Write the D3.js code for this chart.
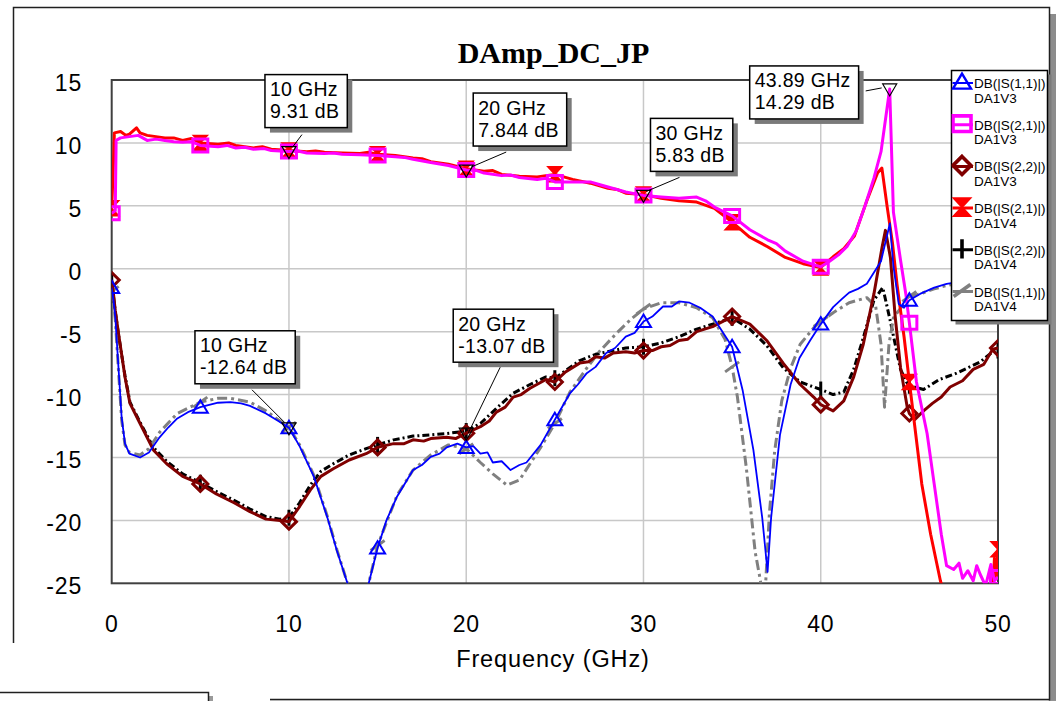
<!DOCTYPE html>
<html>
<head>
<meta charset="utf-8">
<script src="https://d3js.org/d3.v7.min.js"></script>
<style>
body{margin:0;background:#fff;}
svg{display:block;font-family:"Liberation Sans",Arial,sans-serif;}
</style>
</head>
<body>
<div id="chart"></div>
<script>
//DATA
var xTicks = [0,10,20,30,40,50];
var yTicks = [15,10,5,0,-5,-10,-15,-20,-25];

//DB(|S(1,1)|) DA1V3
var s11v3 = [[0,-1.5],[0.1,-2.5],[0.2,-3.8],[0.38,-7.8],[0.56,-11.8],[0.75,-13.9],[1,-14.7],[1.6,-15.0],[2.1,-14.6],[2.7,-13.4],[3.2,-12.6],[3.7,-11.9],[4.3,-11.4],[5,-11.0],[6,-10.65],[6.7,-10.6],[7.3,-10.7],[7.8,-10.9],[8.7,-11.5],[9.4,-12.1],[10,-12.64],[10.6,-14.1],[11.4,-16.5],[12.15,-19.7],[12.7,-22.4],[13.3,-25],[13.9,-28],[14.5,-25],[15,-22.2],[15.5,-20.0],[16.1,-18.1],[17,-16.0],[17.5,-15.6],[18,-14.95],[18.5,-14.7],[18.9,-14.2],[19.5,-13.9],[20,-14.2],[20.4,-14.1],[20.8,-14.7],[21.2,-14.6],[21.5,-15.4],[22,-15.3],[22.5,-16.0],[23,-15.6],[23.4,-15.4],[24.2,-14.0],[25,-12.0],[25.85,-9.9],[26.3,-9.2],[26.8,-8.3],[27.3,-7.8],[27.9,-6.7],[28.4,-6.3],[29,-5.4],[29.5,-5.1],[30,-4.2],[30.5,-3.8],[31.1,-3.0],[31.6,-3.0],[32,-2.6],[32.6,-2.7],[33.2,-3.1],[33.9,-3.8],[35,-6.2],[35.6,-9.7],[36.2,-14.4],[36.7,-19.8],[37,-24.1],[37.2,-19.8],[37.7,-13.2],[38.3,-9.2],[38.8,-7.1],[39.4,-5.7],[40,-4.4],[40.7,-3.05],[41.2,-2.4],[41.6,-1.9],[42.1,-1.6],[42.6,-1.2],[43.4,0.6],[43.9,3.6],[44.1,0.2],[44.4,-2.8],[44.7,-3.1],[45,-2.5],[45.6,-2.0],[46.4,-1.5],[47.1,-1.2],[48,-1.0],[49,-0.8],[50,-0.7]];

//DB(|S(2,1)|) DA1V3
var s21v3 = [[0,4.4],[0.2,4.6],[0.25,10.2],[0.5,10.4],[1,10.5],[1.5,10.6],[2,10.2],[2.5,10.3],[3,10.2],[3.5,10.1],[4,10.05],[4.5,10.1],[5,9.8],[6,9.7],[6.5,9.8],[7,9.6],[7.5,9.65],[8,9.5],[8.6,9.55],[9,9.4],[10,9.31],[10.5,9.35],[11,9.2],[12,9.15],[12.5,9.2],[13,9.1],[14,9.05],[15,9.0],[16,8.9],[16.5,8.85],[17,8.7],[18,8.45],[19,8.2],[20,7.844],[20.6,7.8],[21,7.6],[22,7.4],[22.5,7.45],[23,7.25],[24,7.1],[24.5,7.2],[25,6.9],[26,6.9],[27,6.9],[27.5,6.7],[28,6.5],[29,6.1],[30,5.83],[31,5.7],[32,5.6],[33,5.7],[33.5,5.4],[34,4.9],[35,4.2],[36,3.1],[37,2.3],[37.5,2.0],[38,1.4],[39,0.6],[40,0.15],[40.5,0.6],[41,1.1],[41.5,1.8],[42,3.0],[42.5,5.0],[43,7.2],[43.4,9.3],[43.89,14.29],[44.1,4.5],[44.5,0.7],[44.8,-2.0],[45,-4.3],[45.4,-9.0],[46,-13.1],[46.4,-17.1],[46.8,-21.1],[47.1,-23.6],[47.5,-23.9],[47.8,-23.4],[48,-24.6],[48.3,-24.0],[48.6,-24.8],[48.8,-23.6],[49,-24.3],[49.3,-25.2],[49.6,-23.5],[49.8,-24.8],[50,-24.5]];

//DB(|S(2,2)|) DA1V3
var s22v3 = [[0,-0.9],[0.1,-2.0],[0.2,-3.3],[0.38,-5.1],[0.75,-8.6],[1.03,-10.7],[1.6,-12.3],[2.35,-14.4],[3.1,-15.5],[4,-16.5],[5,-17.1],[5.9,-17.9],[6.9,-18.6],[7.8,-19.3],[8.7,-19.9],[9.5,-20.0],[10,-20.1],[10.6,-18.9],[11.2,-17.6],[11.8,-16.5],[12.5,-15.9],[13.4,-15.2],[14.35,-14.7],[15,-14.2],[15.9,-13.9],[16.5,-13.9],[17,-13.6],[17.6,-13.7],[18,-13.5],[18.9,-13.4],[19.4,-13.5],[20,-13.07],[20.8,-12.55],[21.3,-12.1],[21.7,-11.4],[22.2,-11.0],[22.65,-10.2],[23.1,-10.0],[23.6,-9.5],[24.5,-8.8],[25,-9.0],[25.6,-8.2],[26.4,-7.5],[26.9,-7.4],[27.3,-7.0],[27.8,-7.1],[28.3,-6.7],[29,-6.6],[29.5,-6.7],[30,-6.5],[30.5,-6.5],[31,-6.2],[31.5,-6.1],[32,-5.7],[32.5,-5.6],[33,-5.0],[33.9,-4.6],[35,-3.8],[36,-4.4],[36.95,-5.7],[37.9,-7.55],[38.84,-9.2],[39.6,-10.2],[40,-10.8],[40.7,-11.3],[41.3,-10.5],[41.86,-8.6],[42.4,-6.0],[43,-2.0],[43.46,1.7],[43.65,3.05],[43.93,0.9],[44.2,-3.8],[44.5,-7.85],[44.88,-11.0],[45,-11.5],[45.3,-12.0],[45.8,-11.3],[46.3,-10.7],[46.8,-10.2],[47.3,-9.4],[48,-8.9],[48.6,-8.0],[49.2,-7.6],[49.7,-6.4],[50,-6.3]];

//DB(|S(2,1)|) DA1V4
var s21v4 = [[0,4.8],[0.1,8.5],[0.15,10.8],[0.5,10.9],[0.8,10.6],[1,10.7],[1.4,11.2],[1.6,10.8],[2,10.6],[2.5,10.5],[3,10.4],[3.5,10.4],[4,10.2],[4.5,10.35],[5,10.0],[6,9.9],[6.6,10.0],[7,9.8],[8,9.6],[8.5,9.7],[9,9.5],[10,9.4],[11,9.3],[11.5,9.35],[12,9.25],[13,9.2],[14,9.15],[14.5,9.25],[15,9.1],[16,9.0],[17,8.8],[17.5,8.75],[18,8.5],[19,8.3],[20,7.95],[21,7.75],[21.5,7.8],[22,7.5],[23,7.35],[24,7.3],[25,7.5],[26,7.1],[27,6.8],[28,6.4],[28.5,6.3],[29,6.0],[30,5.9],[31,5.6],[32,5.4],[33,5.3],[34,4.8],[35,3.7],[36,2.5],[37,1.75],[38,0.9],[39,0.4],[40,0.1],[40.7,0.95],[41.3,1.6],[41.9,2.6],[42.6,5.4],[43.2,7.6],[43.45,8.0],[43.75,4.9],[44.05,2.0],[44.3,-1.2],[44.7,-5.4],[45,-9.0],[45.7,-17.1],[46.2,-21.1],[46.75,-24.8],[47,-26],[49.7,-26],[49.8,-23],[49.9,-24.5],[50,-22.3]];

//DB(|S(2,2)|) DA1V4
var s22v4 = [[0,-1.0],[0.2,-3.4],[0.38,-5.2],[0.75,-8.5],[1.03,-10.6],[1.6,-12.2],[2.35,-14.2],[3.1,-15.3],[4,-16.3],[5,-17.0],[5.9,-17.7],[6.9,-18.4],[7.8,-19.1],[8.7,-19.7],[9.5,-19.9],[10,-19.8],[10.6,-18.6],[11.2,-17.2],[11.8,-16.1],[12.5,-15.5],[13.4,-14.8],[14.35,-14.3],[15,-14.0],[15.9,-13.6],[17,-13.3],[18,-13.2],[18.9,-13.1],[20,-12.9],[20.8,-12.3],[21.7,-11.1],[22.65,-9.9],[23.6,-9.2],[24.5,-8.6],[25,-8.7],[26.4,-7.3],[27.3,-6.8],[28.3,-6.5],[29,-6.3],[30,-6.2],[31,-5.9],[32,-5.4],[33,-4.8],[33.9,-4.4],[35,-3.9],[36,-4.8],[36.95,-6.1],[37.9,-7.9],[38.84,-9.0],[39.6,-9.4],[40,-9.6],[40.7,-10.0],[41.3,-9.8],[41.86,-8.0],[42.4,-5.5],[43,-2.5],[43.5,-1.5],[43.9,-4.0],[44.2,-6.0],[44.5,-8.0],[44.84,-9.0],[45,-9.3],[45.8,-9.6],[46.7,-8.8],[47.66,-8.3],[49,-7.4],[49.7,-6.6],[50,-6.5]];

//DB(|S(1,1)|) DA1V4
var s11v4 = [[0,-1.8],[0.1,-2.7],[0.2,-4.0],[0.38,-8.0],[0.56,-12.0],[0.75,-14.0],[1,-14.6],[1.6,-14.8],[2.1,-14.3],[2.7,-13.0],[3.7,-11.5],[5,-10.6],[6,-10.3],[6.7,-10.3],[7.8,-10.6],[8.7,-11.3],[10,-12.6],[10.6,-14.0],[11.4,-16.4],[12.15,-19.6],[12.7,-22.3],[13.3,-25],[13.9,-28],[14.5,-25],[15,-22.0],[16.1,-18.0],[17,-16.0],[18,-14.8],[19,-14.0],[20,-14.3],[20.8,-15.4],[21.5,-16.3],[22.3,-17.2],[23,-16.8],[23.6,-15.5],[24.2,-14.2],[25,-12.3],[25.85,-9.8],[26.8,-7.9],[27.5,-6.6],[28.5,-5.1],[29.3,-4.0],[30,-3.2],[31,-2.7],[32,-2.7],[33,-3.1],[33.9,-3.9],[34.6,-5.6],[35,-7.8],[35.3,-10.2],[35.8,-15.8],[36.3,-22.5],[36.6,-24.8],[36.75,-27],[36.9,-24.8],[37.1,-19.5],[37.4,-14.5],[37.8,-10.5],[38.3,-7.9],[38.84,-6.0],[39.6,-4.7],[40,-4.2],[40.7,-3.5],[41.6,-2.7],[42.6,-2.3],[43.1,-3.0],[43.4,-6.0],[43.6,-11.0],[43.85,-6.0],[44.1,-3.9],[45,-2.2],[45.6,-2.0],[46.4,-1.6],[47.2,-1.3],[48,-1.1],[49,-0.9],[50,-0.8]];

var legendNames = [['DB(|S(1,1)|)','DA1V3'],['DB(|S(2,1)|)','DA1V3'],['DB(|S(2,2)|)','DA1V3'],['DB(|S(2,1)|)','DA1V4'],['DB(|S(2,2)|)','DA1V4'],['DB(|S(1,1)|)','DA1V4']];

//marker readouts (freq GHz, dB)
var readoutFreq = [10,20,30,43.89,10,20];
var readoutDb = [9.31,7.844,5.83,14.29,-12.64,-13.07];

//LAYOUT of the readout boxes, relative to the marked point
var readoutLayout = [
	{box:[-24,-77], lead:[13,-17,4,-5]},
	{box:[7,-77], lead:[40,-18,5,-3]},
	{box:[7,-77], lead:[36,-18,3,-4]},
	{box:[-140,-23], lead:[-24,2,-8,-1]},
	{box:[-94,-97], lead:[-37,-38,-4,-5]},
	{box:[-13,-124], lead:[34,-66,2,0]}
];

var traces = [
	{data:s11v3, color:'#0000ff', width:1.8, dash:null, symbol:'tri', z:5},
	{data:s21v3, color:'#ff00ff', width:3, dash:null, symbol:'square', z:4},
	{data:s22v3, color:'#800000', width:3, dash:null, symbol:'diamond', z:2},
	{data:s21v4, color:'#ff0000', width:3, dash:null, symbol:'hourglass', z:3},
	{data:s22v4, color:'#000000', width:3, dash:'7,3,2,3', symbol:'vbar', z:0},
	{data:s11v4, color:'#808080', width:3, dash:'10,4,3,4', symbol:'slash', z:1}
];

var W = 1056, H = 701;

var svg = d3.select('#chart')
.append('svg')
.attr('width', W)
.attr('height', H);

var x = d3.scaleLinear().domain([0,50]).range([111.7,998]);
var y = d3.scaleLinear().domain([-25,15]).range([583.3,80]);

//OUTER FRAME (window borders)
svg.append('rect').attr('x',1050).attr('y',14).attr('width',6).attr('height',H-14).attr('fill','#8c8c8c');
var frame = svg.append('g').attr('stroke','#202020').attr('stroke-width',1.5).attr('fill','none');
frame.append('path').attr('d','M13.5,643V7.5H1049.5V701');
frame.append('path').attr('d','M270,699.5H1049.5');
svg.append('rect').attr('x',270).attr('y',700.5).attr('width',786).attr('height',1).attr('fill','#9a9a9a');
//overlapping small window in the lower left
svg.append('rect').attr('x',209).attr('y',696).attr('width',4).attr('height',10).attr('fill','#9a9a9a');
svg.append('path').attr('d','M0,692.5H208.5V701').attr('stroke','#202020').attr('stroke-width',1.5).attr('fill','none');

//TITLE
svg.append('text')
.attr('x', 553.5)
.attr('y', 63)
.attr('text-anchor','middle')
.attr('font-family','"Liberation Serif","Times New Roman",serif')
.attr('font-weight','bold')
.attr('font-size',30)
.text('DAmp_DC_JP');

//GRID
svg.append('g')
.selectAll('line')
.data(xTicks.slice(1,-1))
.enter()
.append('line')
.attr('x1', function(d){ return x(d); })
.attr('x2', function(d){ return x(d); })
.attr('y1', y(15))
.attr('y2', y(-25))
.attr('stroke','#c8c8c8')
.attr('stroke-width',1.5);

svg.append('g')
.selectAll('line')
.data(yTicks.slice(1,-1))
.enter()
.append('line')
.attr('x1', x(0))
.attr('x2', x(50))
.attr('y1', function(d){ return y(d); })
.attr('y2', function(d){ return y(d); })
.attr('stroke','#c8c8c8')
.attr('stroke-width',1.5);

svg.append('rect')
.attr('x', x(0))
.attr('y', y(15))
.attr('width', x(50)-x(0))
.attr('height', y(-25)-y(15))
.attr('fill','none')
.attr('stroke','#404040')
.attr('stroke-width',2);

//TICK LABELS
svg.append('g')
.selectAll('text')
.data(yTicks)
.enter()
.append('text')
.attr('x', 82)
.attr('y', function(d){ return y(d) + 11; })
.attr('text-anchor','end')
.attr('font-size',23)
.attr('letter-spacing',0.8)
.text(function(d){ return d; });

svg.append('g')
.selectAll('text')
.data(xTicks)
.enter()
.append('text')
.attr('x', function(d){ return x(d); })
.attr('y', 632)
.attr('text-anchor','middle')
.attr('font-size',23)
.attr('letter-spacing',0.8)
.text(function(d){ return d; });

svg.append('text')
.attr('x', 553)
.attr('y', 667)
.attr('text-anchor','middle')
.attr('font-size',23.5)
.attr('letter-spacing',0.9)
.text('Frequency (GHz)');

//SYMBOLS
function symbolPath(type){
	switch(type){
		case 'tri': return 'M0,-7L7.5,5.5L-7.5,5.5Z';
		case 'square': return 'M-7.5,-6.5H7.5V6.5H-7.5Z';
		case 'diamond': return 'M0,-7.5L7.5,0L0,7.5L-7.5,0Z';
		case 'hourglass': return 'M-7,-7.5H7L0,0ZM-7,7.5H7L0,0Z';
		case 'vbar': return 'M0,-8V8';
		case 'slash': return 'M-7,5L7,-5';
	}
}
function styleSymbol(sel, t){
	var filled = t.symbol === 'hourglass';
	sel.attr('d', symbolPath(t.symbol))
	.attr('fill', filled ? t.color : 'none')
	.attr('stroke', t.color)
	.attr('stroke-width', t.symbol === 'tri' ? 2 : (t.symbol === 'hourglass' ? 1.5 : 3));
}

//CLIP
svg.append('clipPath')
.attr('id','plotClip')
.append('rect')
.attr('x', x(0))
.attr('y', y(15))
.attr('width', x(50)-x(0))
.attr('height', y(-25)-y(15));

var plot = svg.append('g').attr('clip-path','url(#plotClip)');

var line = d3.line()
.x(function(d){ return x(d[0]); })
.y(function(d){ return y(d[1]); });

var drawOrder = traces.slice().sort(function(a,b){ return a.z - b.z; });

drawOrder.forEach(function(t){
	var g = plot.append('g');
	g.append('path')
	.datum(t.data)
	.attr('d', line)
	.attr('fill','none')
	.attr('stroke', t.color)
	.attr('stroke-width', t.width)
	.attr('stroke-linejoin','round')
	.attr('stroke-dasharray', t.dash);

	g.selectAll('path.sym')
	.data(t.data.filter(function(d){ return d[0] % 5 === 0; }))
	.enter()
	.append('path')
	.attr('class','sym')
	.attr('transform', function(d){ return 'translate(' + x(d[0]) + ',' + y(d[1]) + ')'; })
	.call(styleSymbol, t);
});

//READOUT MARKERS AND LABELS
var readouts = svg.append('g');
readoutFreq.forEach(function(f, i){
	var db = readoutDb[i];
	var px = x(f), py = y(db);
	var lay = readoutLayout[i];

	readouts.append('path')
	.attr('d','M' + (px-7) + ',' + (py-5) + 'H' + (px+7) + 'L' + px + ',' + (py+7) + 'Z')
	.attr('fill','none')
	.attr('stroke','#000')
	.attr('stroke-width',1.2);

	readouts.append('line')
	.attr('x1', px + lay.lead[0])
	.attr('y1', py + lay.lead[1])
	.attr('x2', px + lay.lead[2])
	.attr('y2', py + lay.lead[3])
	.attr('stroke','#000')
	.attr('stroke-width',1);

	var bx = px + lay.box[0], by = py + lay.box[1];
	var box = readouts.append('g');
	var shadow = box.append('rect').attr('fill','#7a7a7a');
	var rect = box.append('rect').attr('fill','#fff').attr('stroke','#000').attr('stroke-width',1.5);
	var t1 = box.append('text').attr('x', bx + 5).attr('y', by + 21.5).attr('font-size',19.5).attr('letter-spacing',0.3).text(f + ' GHz');
	var t2 = box.append('text').attr('x', bx + 5).attr('y', by + 43.5).attr('font-size',19.5).attr('letter-spacing',0.3).text(db + ' dB');
	var w = Math.max(t1.node().getComputedTextLength(), t2.node().getComputedTextLength()) + 13;
	rect.attr('x', bx).attr('y', by).attr('width', w).attr('height', 53);
	shadow.attr('x', bx + 5).attr('y', by + 5).attr('width', w).attr('height', 53);
});

//LEGEND
var lg = svg.append('g');
var lx = 951.5, ly = 70.5, lw = 96, lh = 250;
lg.append('rect').attr('x', lx+4).attr('y', ly+4).attr('width', lw).attr('height', lh).attr('fill','#7a7a7a');
lg.append('rect').attr('x', lx).attr('y', ly).attr('width', lw).attr('height', lh).attr('fill','#fff').attr('stroke','#000').attr('stroke-width',1.5);

svg.append('clipPath')
.attr('id','legendClip')
.append('rect')
.attr('x', lx).attr('y', ly).attr('width', lw - 1).attr('height', lh);

var items = lg.append('g').attr('clip-path','url(#legendClip)')
.selectAll('g')
.data(traces)
.enter()
.append('g')
.attr('transform', function(d,i){ return 'translate(0,' + (88 + i*41.7) + ')'; });

items.append('line')
.attr('x1', lx + 1)
.attr('x2', 973)
.attr('y1', -5)
.attr('y2', -5)
.attr('stroke', function(d){ return d.color; })
.attr('stroke-width', function(d){ return d.width; });

items.append('path')
.attr('transform','translate(962,-6) scale(1.2)')
.each(function(d){ d3.select(this).call(styleSymbol, d); });

items.append('text')
.attr('x', 974)
.attr('y', 0)
.attr('font-size',13.5)
.attr('fill','#000')
.text(function(d,i){ return legendNames[i][0]; });

items.append('text')
.attr('x', 974)
.attr('y', 14.5)
.attr('font-size',13.5)
.attr('fill','#000')
.text(function(d,i){ return legendNames[i][1]; });
</script>
</body>
</html>
